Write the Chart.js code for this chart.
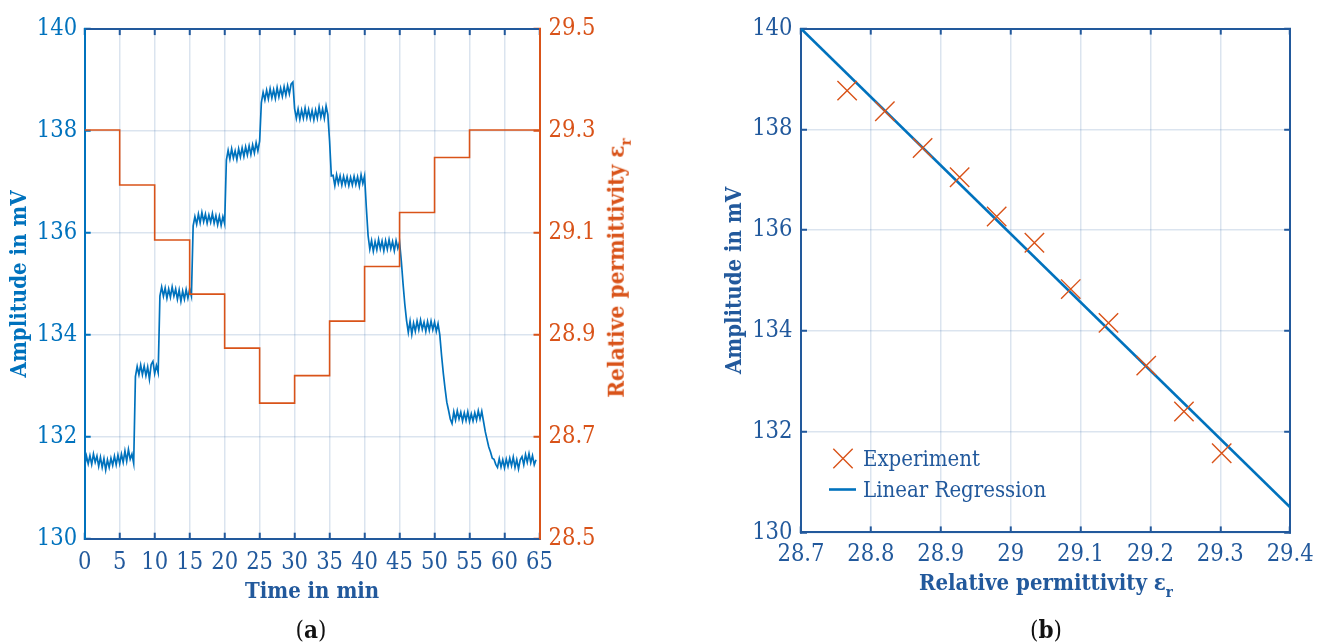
<!DOCTYPE html>
<html>
<head>
<meta charset="utf-8">
<script src="https://cdn.jsdelivr.net/npm/chart.js@4/dist/chart.umd.min.js"></script>
<style>
html,body{margin:0;padding:0;background:#fff;}
#wrap{position:relative;width:1328px;height:644px;overflow:hidden;background:#fff;}
canvas{position:absolute;top:0;}
.t{position:absolute;white-space:nowrap;font-family:"DejaVu Serif Condensed","Liberation Serif",serif;font-stretch:condensed;line-height:1;transform:translate(-50%,-50%);}
.sub{font-size:15px;position:relative;top:7px;}
#legend{position:absolute;left:829px;top:443px;font-family:"DejaVu Serif Condensed","Liberation Serif",serif;font-stretch:condensed;font-size:22px;color:#22599c;}
#legend .row{display:flex;align-items:center;height:31px;white-space:nowrap;}
#legend svg{margin-right:6px;}
</style>
</head>
<body>
<div id="wrap">
  <canvas id="cA" width="680" height="644" style="left:0"></canvas>
  <canvas id="cB" width="648" height="644" style="left:680px"></canvas>
  <div class="t" style="left:616px;top:268px;transform:translate(-50%,-50%) rotate(-90deg);font-size:22.5px;font-weight:bold;color:#D95319;">Relative permittivity ε<span class="sub">r</span></div>
  <div class="t" style="left:1046px;top:582px;font-size:22px;font-weight:bold;color:#22599c;">Relative permittivity ε<span class="sub">r</span></div>
  <div class="t" style="left:311px;top:630px;font-size:24px;color:#111;">(<b>a</b>)</div>
  <div class="t" style="left:1046px;top:630px;font-size:24px;color:#111;">(<b>b</b>)</div>
  <div id="legend"></div>
</div>
<script>
// ---------- data ----------
// (a) measured amplitude, sampled every 0.25 min from 0 to 64.5 min
const timeStepMin = 0.25;
const amplitudeMv = [
  131.42,131.62,131.47,131.63, // 0 min
  131.46,131.66,131.50,131.62, // 1
  131.42,131.60,131.40,131.57, // 2
  131.35,131.55,131.40,131.58, // 3
  131.44,131.62,131.45,131.64, // 4
  131.47,131.66,131.50,131.72, // 5
  131.52,131.75,131.56,131.66, // 6
  131.48,133.18,133.38,133.22, // 7
  133.41,133.22,133.39,133.20, // 8
  133.37,133.13,133.42,133.48, // 9
  133.24,133.40,133.26,134.76, // 10
  134.94,134.76,134.92,134.72, // 11
  134.90,134.74,134.94,134.76, // 12
  134.90,134.70,134.88,134.66, // 13
  134.86,134.70,134.89,134.72, // 14
  134.90,134.76,136.14,136.32, // 15
  136.17,136.37,136.20,136.40, // 16
  136.22,136.37,136.19,136.35, // 17
  136.21,136.38,136.19,136.34, // 18
  136.16,136.33,136.15,136.32, // 19
  136.18,137.43,137.62,137.45, // 20
  137.65,137.47,137.61,137.44, // 21
  137.65,137.49,137.67,137.50, // 22
  137.69,137.53,137.71,137.54, // 23
  137.73,137.57,137.77,137.61, // 24
  137.80,138.56,138.76,138.61, // 25
  138.80,138.63,138.83,138.65, // 26
  138.81,138.64,138.85,138.67, // 27
  138.84,138.68,138.87,138.70, // 28
  138.89,138.73,138.92,138.96, // 29
  138.44,138.25,138.43,138.23, // 30
  138.41,138.25,138.45,138.26, // 31
  138.42,138.24,138.40,138.22, // 32
  138.41,138.25,138.47,138.27, // 33
  138.43,138.25,138.49,138.32, // 34
  137.80,137.12,137.13,136.93, // 35
  137.14,136.97,137.12,136.94, // 36
  137.11,136.95,137.10,136.93, // 37
  137.09,136.94,137.11,136.95, // 38
  137.10,136.92,137.14,136.97, // 39
  137.12,136.50,135.95,135.68, // 40
  135.85,135.64,135.83,135.67, // 41
  135.87,135.69,135.84,135.65, // 42
  135.85,135.68,135.87,135.69, // 43
  135.83,135.65,135.85,135.70, // 44
  135.82,135.45,135.00,134.60, // 45
  134.28,134.05,134.27,134.01, // 46
  134.23,134.07,134.27,134.10, // 47
  134.29,134.11,134.25,134.07, // 48
  134.26,134.09,134.27,134.10, // 49
  134.25,134.07,134.22,134.00, // 50
  133.60,133.25,132.95,132.68, // 51
  132.52,132.35,132.26,132.49, // 52
  132.33,132.51,132.35,132.48, // 53
  132.31,132.47,132.32,132.49, // 54
  132.30,132.45,132.31,132.47, // 55
  132.33,132.51,132.35,132.50, // 56
  132.30,132.10,131.95,131.80, // 57
  131.70,131.58,131.56,131.46, // 58
  131.40,131.57,131.41,131.55, // 59
  131.39,131.56,131.42,131.58, // 60
  131.43,131.60,131.40,131.55, // 61
  131.37,131.55,131.61,131.45, // 62
  131.65,131.50,131.67,131.49, // 63
  131.63,131.45,131.55         // 64
];
// (a) set permittivity steps (value holds from each start time)
const permStepStartMin = [0, 5, 10, 15, 20, 25, 30, 35, 40, 45, 50, 55, 65];
const permStepValue    = [29.302, 29.194, 29.086, 28.980, 28.874, 28.766, 28.820, 28.927, 29.034, 29.140, 29.248, 29.302, 29.302];
// (b) experiment points and regression line
const expPermittivity = [28.766, 28.820, 28.874, 28.927, 28.980, 29.034, 29.086, 29.140, 29.194, 29.248, 29.302];
const expAmplitudeMv  = [138.77, 138.36, 137.63, 137.05, 136.27, 135.75, 134.83, 134.16, 133.31, 132.40, 131.57];
const regPermittivity = [28.7, 29.4];
const regAmplitudeMv  = [140.0, 130.5];
// axis ranges / ticks
const timeRange = [0, 65], timeStep = 5;
const ampRange = [130, 140], ampStep = 2;
const permRangeA = [28.5, 29.5], permStepA = 0.2;
const permRangeB = [28.7, 29.4], permStepB = 0.1;
const seriesLabels = ['Experiment', 'Linear Regression'];

// ---------- styling ----------
const DARK = '#22599c', BLUE = '#0072BD', ORANGE = '#D95319';
const GRID = 'rgba(34,89,156,0.16)';
const FONT = '"DejaVu Serif Condensed", "Liberation Serif", serif';
const tickFont = {family: FONT, size: 23.5};
const titleFont = {family: FONT, size: 22, weight: 'bold'};
const TL = -6;

function axis(pos, range, step, color, opts) {
  opts = opts || {};
  return {
    type: 'linear', position: pos, min: range[0], max: range[1],
    ticks: Object.assign({stepSize: step, autoSkip: false, maxRotation: 0, color: color, font: tickFont,
      display: opts.labels !== false, padding: opts.pad || 14}, opts.tickCb ? {callback: opts.tickCb} : {}),
    grid: {display: true, drawOnChartArea: !!opts.grid, color: GRID, lineWidth: 1.5,
      drawTicks: true, tickLength: TL, tickColor: color, tickWidth: 2},
    border: {display: true, color: color, width: 2},
    title: opts.title ? {display: true, text: opts.title, color: opts.titleColor || color, font: titleFont,
      padding: {top: opts.titlePad || 0, bottom: 0}} : {display: false},
    afterFit: function (s) { if (opts.w !== undefined) s.width = opts.w; if (opts.h !== undefined) s.height = opts.h; }
  };
}

Chart.defaults.animation = false;
Chart.defaults.font.family = FONT;

// ---------- chart (a) ----------
new Chart(document.getElementById('cA'), {
  type: 'scatter',
  data: {
    datasets: [
      {
        label: 'Relative permittivity',
        data: permStepStartMin.map((t, i) => ({x: t, y: permStepValue[i]})),
        xAxisID: 'x', yAxisID: 'y2', showLine: true, stepped: 'before',
        borderColor: ORANGE, borderWidth: 1.6, pointRadius: 0, order: 1
      },
      {
        label: 'Amplitude',
        data: amplitudeMv.map((v, i) => ({x: i * timeStepMin, y: v})),
        xAxisID: 'x', yAxisID: 'y', showLine: true,
        borderColor: BLUE, borderWidth: 1.7, pointRadius: 0, order: 2
      }
    ]
  },
  options: {
    responsive: false, devicePixelRatio: 1, animation: false,
    layout: {autoPadding: false, padding: {left: 0, right: 0, top: 20.7, bottom: 38.6}},
    plugins: {legend: {display: false}, tooltip: {enabled: false}},
    scales: {
      x: axis('bottom', timeRange, timeStep, DARK, {grid: true, pad: 16, title: 'Time in min', h: 66.7}),
      x2: axis('top', timeRange, timeStep, DARK, {labels: false, h: 0}),
      y: axis('left', ampRange, ampStep, BLUE, {grid: true, pad: 13.5, title: 'Amplitude in mV', titlePad: 6.8, w: 84.7}),
      y2: axis('right', permRangeA, permStepA, ORANGE, {pad: 15, w: 140.5, tickCb: v => v.toFixed(1)})
    }
  }
});

// ---------- chart (b) ----------
const chartB = new Chart(document.getElementById('cB'), {
  type: 'scatter',
  data: {
    datasets: [
      {
        label: seriesLabels[0],
        data: expPermittivity.map((p, i) => ({x: p, y: expAmplitudeMv[i]})),
        xAxisID: 'x', yAxisID: 'y', showLine: false,
        pointStyle: 'crossRot', pointRadius: 13.7, pointBorderWidth: 1.4,
        borderColor: ORANGE, backgroundColor: ORANGE, order: 1
      },
      {
        label: seriesLabels[1],
        data: regPermittivity.map((p, i) => ({x: p, y: regAmplitudeMv[i]})),
        xAxisID: 'x', yAxisID: 'y', showLine: true,
        borderColor: BLUE, borderWidth: 2.6, pointRadius: 0, order: 2
      }
    ]
  },
  options: {
    responsive: false, devicePixelRatio: 1, animation: false,
    layout: {autoPadding: false, padding: {left: 0, right: 0, top: 21.1, bottom: 51.6}},
    plugins: {legend: {display: false}, tooltip: {enabled: false}},
    scales: {
      x: axis('bottom', permRangeB, permStepB, DARK, {grid: true, pad: 14.3, h: 60,
        tickCb: v => String(Math.round(v * 10) / 10)}),
      x2: axis('top', permRangeB, permStepB, DARK, {labels: false, h: 0}),
      y: axis('left', ampRange, ampStep, DARK, {grid: true, pad: 14.5, title: 'Amplitude in mV', titlePad: 41.8, w: 121}),
      y2: axis('right', ampRange, ampStep, DARK, {labels: false, w: 35.5})
    }
  }
});

// ---------- legend for (b), built from the chart's datasets ----------
(function () {
  const lg = document.getElementById('legend');
  chartB.data.datasets.forEach(ds => {
    const row = document.createElement('div');
    row.className = 'row';
    let svg;
    if (ds.showLine) {
      svg = '<svg width="28" height="31"><line x1="0" y1="15.5" x2="27" y2="15.5" stroke="' + ds.borderColor + '" stroke-width="' + ds.borderWidth + '"/></svg>';
    } else {
      const o = ds.pointRadius * Math.SQRT1_2;
      svg = '<svg width="28" height="31"><path d="M' + (14 - o) + ' ' + (15.5 - o) + 'L' + (14 + o) + ' ' + (15.5 + o) +
        'M' + (14 + o) + ' ' + (15.5 - o) + 'L' + (14 - o) + ' ' + (15.5 + o) + '" stroke="' + ds.borderColor + '" stroke-width="' + ds.pointBorderWidth + '" fill="none"/></svg>';
    }
    row.innerHTML = svg + '<span>' + ds.label + '</span>';
    lg.appendChild(row);
  });
})();
</script>
</body>
</html>
